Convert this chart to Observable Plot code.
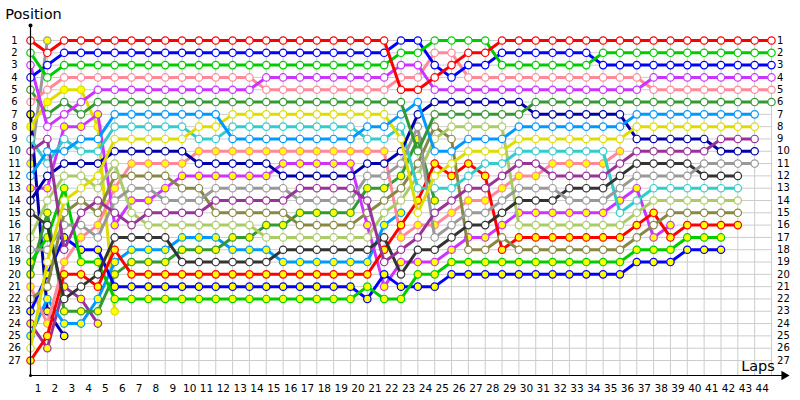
<!DOCTYPE html>
<html><head><meta charset="utf-8">
<script src="https://cdn.jsdelivr.net/npm/d3@7"></script>
<script src="https://cdn.jsdelivr.net/npm/@observablehq/plot@0.6"></script>
<style>body{margin:0;background:#fff;}</style>
</head><body><div id="chart"></div>
<script>
// Lap tick labels and position labels
const lapLabels = [1,2,3,4,5,6,7,8,9,10,11,12,13,14,15,16,17,18,19,20,21,22,23,24,25,26,27,28,29,30,31,32,33,34,35,36,37,38,39,40,41,42,43,44];
const positionLabels = [1,2,3,4,5,6,7,8,9,10,11,12,13,14,15,16,17,18,19,20,21,22,23,24,25,26,27];
const gridLaps = [0,1,2,3,4,5,6,7,8,9,10,11,12,13,14,15,16,17,18,19,20,21,22,23,24,25,26,27,28,29,30,31,32,33,34,35,36,37,38,39,40,41,42,43,44];
const axisTitles = ["Position", "Laps"];

// Position of each driver, from lap 0 (grid) onwards
const red     = [1,2,1,1,1,1,1,1,1,1, 1,1,1,1,1,1,1,1,1,1, 1,1,5,5,4,3,2,2,1,1, 1,1,1,1,1,1,1,1,1,1, 1,1,1,1,1];
const blue    = [4,3,2,2,2,2,2,2,2,2, 2,2,2,2,2,2,2,2,2,2, 2,2,1,1,3,4,3,3,2,2, 2,2,2,2,3,3,3,3,3,3, 3,3,3,3,3];
const lime    = [2,4,3,3,3,3,3,3,3,3, 3,3,3,3,3,3,3,3,3,3, 3,3,2,2,1,1,1,1,3,3, 3,3,3,3,2,2,2,2,2,2, 2,2,2,2,2];
const violet  = [3,8,7,6,5,5,5,5,5,5, 5,5,5,5,4,4,4,4,4,4, 4,4,3,3,5,5,5,5,5,5, 5,5,5,5,5,5,5,4,4,4, 4,4,4,4,4];
const pink    = [6,5,4,4,4,4,4,4,4,4, 4,4,4,4,5,5,5,5,5,5, 5,5,4,4,2,2,4,4,4,4, 4,4,4,4,4,4,4,5,5,5, 5,5,5,5,5];
const dkgreen = [5,7,6,7,6,6,6,6,6,6, 6,6,6,6,6,6,6,6,6,6, 6,6,6,10,7,7,7,7,7,7, 6,6,6,6,6,6,6,6,6,6, 6,6,6,6,6];
const ltblue  = [12,10,10,9,9,7,7,7,7,7, 7,7,9,9,9,9,9,9,9,9, 8,8,7,6,10,10,9,9,9,8, 8,8,8,8,8,8,7,7,7,7, 7,7,7,7];
const yellow  = [26,19,14,13,12,9,9,9,9,9, 8,8,7,7,7,7,7,7,7,7, 7,7,9,15,12,11,10,10,10,9, 9,9,9,9,9,9,8,8,8,8, 8,8,8,8];
const cyan    = [9,11,9,10,10,8,8,8,8,8, 9,9,8,8,8,8,8,8,8,8, 9,9,8,13,13,13,12,11,11,10, 10,10,10,10,10,15,14,13,13,13, 13,13,13];
const navy    = [14,12,11,11,11,10,10,10,10,10, 11,11,11,11,11,12,12,12,12,12, 11,11,10,7,6,6,6,6,6,6, 7,7,7,7,7,7,9,9,9,9, 9,10,10,10];
const purple  = [10,9,18,15,14,15,16,15,15,15, 15,14,14,14,14,14,13,13,13,13, 14,19,18,17,15,14,13,13,12,11, 11,12,12,12,12,11,10,10,10,10, 10,9,9,9];
const gray    = [18,18,16,16,17,14,13,13,14,14, 14,13,13,13,13,13,14,14,14,14, 12,12,11,8,17,16,15,15,14,13, 13,13,14,14,14,13,12,12,12,12, 11,11,11,11];
const black   = [15,16,22,21,20,17,17,17,17,19, 19,19,19,19,19,18,18,18,18,18, 18,17,20,18,18,17,16,16,15,14, 14,14,13,13,13,12,11,11,11,11, 12,12,12];
const ltgreen = [17,14,12,12,13,11,15,16,16,16, 16,16,16,16,17,17,17,17,17,17, 17,15,14,12,9,8,8,8,8,16, 16,16,16,16,16,16,15,14,14,14, 14,14,14];
const olive   = [22,21,15,14,15,12,12,12,12,13, 13,15,15,15,15,15,16,16,16,16, 15,14,13,11,8,9,18,18,17,18, 18,18,18,18,18,18,17,16,15,15, 15,15,15];
const pinkY   = [21,24,19,17,16,13,11,11,11,11, 10,10,10,10,10,10,10,10,10,10, 10,10,17,16,16,15,14,14,13,12, 12,11,11,11,11,10];
const violetY = [13,13,8,8,7,16,14,14,13,12, 12,12,12,12,12,11,11,11,11,11, 16,21,19,19,19,18,17,17,16,15, 15,15,15,15,15,14,13,17,16];
const ltblueY = [25,22,24,24,22,19,18,18,18,17, 17,17,18,18,18,19,19,19,19,19, 19,16,15];
const dkgreenY= [20,15,23,23,23,20,19,19,19,18, 18,18,17,17,16,16,15,15,15,15, 13,13,12,9,14];
const redY    = [27,25,20,20,21,18,20,20,20,20, 20,20,20,20,20,20,20,20,20,20, 20,18,16,14,11,12,11,12,18,17, 17,17,17,17,17,17,16,15,17,16, 16,16,16];
const blueY   = [23,20,17,18,18,21,21,21,21,21, 21,21,21,21,21,21,21,21,21,21, 22,20,21,21,21,20,20,20,20,20, 20,20,20,20,20,20,19,19,19,18, 18,18];
const limeY   = [19,17,13,19,19,22,22,22,22,22, 22,22,22,22,22,22,22,22,22,22, 21,22,22,20,20,19,19,19,19,19, 19,19,19,19,19,19,18,18,18,17, 17,17];
const grayY   = [11,1];
const navyY   = [7,23,25];
const yellowY = [8,6,5,5,8,23];
const purpleY = [24,26,21,22,24];

const W = "#ffffff", Y = "#ffff00";
const drivers = [
  {pos: red,      color: "#ff0000", fill: W},
  {pos: lime,     color: "#00cc00", fill: W},
  {pos: blue,     color: "#0000ff", fill: W},
  {pos: violet,   color: "#cc33ff", fill: W},
  {pos: pink,     color: "#ff8899", fill: W},
  {pos: dkgreen,  color: "#339933", fill: W},
  {pos: ltblue,   color: "#0099ff", fill: W},
  {pos: yellow,   color: "#dddd00", fill: W},
  {pos: purple,   color: "#993399", fill: W},
  {pos: navy,     color: "#0000aa", fill: W},
  {pos: gray,     color: "#999999", fill: W},
  {pos: black,    color: "#333333", fill: W},
  {pos: cyan,     color: "#33cccc", fill: W},
  {pos: ltgreen,  color: "#aacc66", fill: W},
  {pos: olive,    color: "#888844", fill: W},
  {pos: redY,     color: "#ff0000", fill: Y},
  {pos: limeY,    color: "#00cc00", fill: Y},
  {pos: blueY,    color: "#0000ff", fill: Y},
  {pos: violetY,  color: "#cc33ff", fill: Y},
  {pos: pinkY,    color: "#ff8899", fill: Y},
  {pos: dkgreenY, color: "#339933", fill: Y},
  {pos: ltblueY,  color: "#0099ff", fill: Y},
  {pos: purpleY,  color: "#993399", fill: Y},
  {pos: yellowY,  color: "#dddd00", fill: Y},
  {pos: navyY,    color: "#0000aa", fill: Y},
  {pos: grayY,    color: "#999999", fill: Y}
];

const font = "DejaVu Sans";
const seriesMarks = [];
drivers.slice().reverse().forEach(d => {
  const rows = d.pos.map((p, lap) => ({lap, p}));
  seriesMarks.push(Plot.line(rows, {x: "lap", y: "p", stroke: d.color, strokeWidth: 3, strokeLinejoin: "round", strokeLinecap: "round"}));
  seriesMarks.push(Plot.dot(rows, {x: "lap", y: "p", r: 3.7, stroke: d.color, strokeWidth: 1.2, fill: d.fill}));
});

const yBottom = 28.22, yTop = -0.22;
const chart = Plot.plot({
  width: 800, height: 400,
  marginTop: 0, marginRight: 0, marginBottom: 0, marginLeft: 0,
  x: {domain: [0, 44], range: [30, 771], axis: null},
  y: {domain: [1, 27], range: [40, 360], axis: null},
  style: {fontFamily: font, background: "#fff"},
  marks: [
    Plot.ruleX(gridLaps, {x: d => d, y1: 1, y2: yBottom, stroke: "#cccccc", strokeWidth: 1}),
    Plot.ruleY(positionLabels, {y: d => d, x1: 0, x2: 44, stroke: "#cccccc", strokeWidth: 1}),
    ...seriesMarks,
    Plot.ruleX([0], {x: d => d, y1: yTop, y2: yBottom, stroke: "#000", strokeWidth: 1.2}),
    Plot.ruleY([yBottom], {y: d => d, x1: 0, x2: 44.7, stroke: "#000", strokeWidth: 1.2}),
    Plot.dot([0], {x: d => d, y: yTop, r: 2, fill: "#000"}),
    Plot.dot([0], {x: d => d, y: yBottom, r: 1.5, fill: "#000"}),
    Plot.dot([44.75], {x: d => d, y: yBottom, symbol: "triangle", r: 3.5, rotate: 90, fill: "#000", stroke: "none"}),
    Plot.text(lapLabels, {x: d => d - 0.55, y: 29.3, text: d => String(d), fontSize: 10.5, fill: "#000", fontFamily: font}),
    Plot.text(positionLabels, {x: -0.95, y: d => d, text: d => String(d), fontSize: 10, fill: "#000", fontFamily: font}),
    Plot.text(positionLabels, {x: 44.33, y: d => d, text: d => String(d), textAnchor: "start", fontSize: 10, fill: "#000", fontFamily: font}),
    Plot.text([axisTitles[0]], {x: -1.5, y: -1.15, text: d => d, textAnchor: "start", fontSize: 14.5, fill: "#000", fontFamily: font}),
    Plot.text([axisTitles[1]], {x: 44.2, y: 27.45, text: d => d, textAnchor: "end", fontSize: 14.5, fill: "#000", fontFamily: font})
  ]
});
document.getElementById("chart").appendChild(chart);
</script>
</body></html>
